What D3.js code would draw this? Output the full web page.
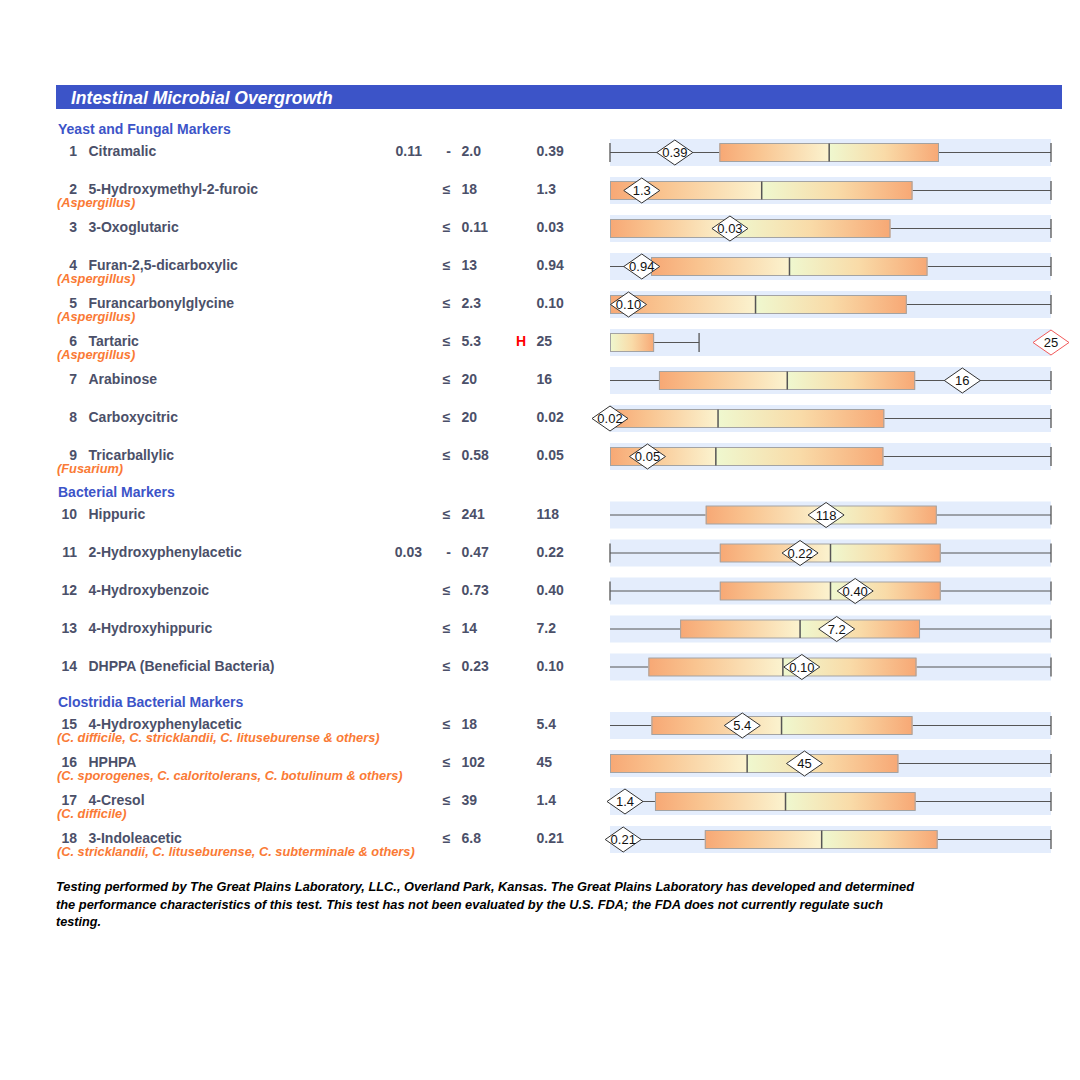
<!DOCTYPE html>
<html>
<head>
<meta charset="utf-8">
<script src="https://cdn.jsdelivr.net/npm/d3@7"></script>
<style>
  html, body { margin: 0; padding: 0; background: #ffffff; }
  svg { display: block; }
  text { font-family: "Liberation Sans", Arial, Helvetica, sans-serif; }
</style>
</head>
<body>
<svg id="chart" width="1080" height="1080"></svg>
<script>
// ---------------- DATA ----------------
const chartTitle = "Intestinal Microbial Overgrowth";
const sectionTitles = ["Yeast and Fungal Markers", "Bacterial Markers", "Clostridia Bacterial Markers"];
const sectionOfRow = [0,0,0,0,0,0,0,0,0, 1,1,1,1,1, 2,2,2,2];
const rowNumbers = [1,2,3,4,5,6,7,8,9,10,11,12,13,14,15,16,17,18];
const analyteNames = [
  "Citramalic", "5-Hydroxymethyl-2-furoic", "3-Oxoglutaric", "Furan-2,5-dicarboxylic",
  "Furancarbonylglycine", "Tartaric", "Arabinose", "Carboxycitric", "Tricarballylic",
  "Hippuric", "2-Hydroxyphenylacetic", "4-Hydroxybenzoic", "4-Hydroxyhippuric",
  "DHPPA (Beneficial Bacteria)", "4-Hydroxyphenylacetic", "HPHPA", "4-Cresol", "3-Indoleacetic"
];
const organisms = [
  "", "(Aspergillus)", "", "(Aspergillus)", "(Aspergillus)", "(Aspergillus)", "", "", "(Fusarium)",
  "", "", "", "", "",
  "(C. difficile, C. stricklandii, C. lituseburense & others)",
  "(C. sporogenes, C. caloritolerans, C. botulinum & others)",
  "(C. difficile)",
  "(C. stricklandii, C. lituseburense, C. subterminale & others)"
];
const refLow  = ["0.11","","","","","","","","","","0.03","","","","","","",""];
const refHigh = ["2.0","18","0.11","13","2.3","5.3","20","20","0.58","241","0.47","0.73","14","0.23","18","102","39","6.8"];
const results = ["0.39","1.3","0.03","0.94","0.10","25","16","0.02","0.05","118","0.22","0.40","7.2","0.10","5.4","45","1.4","0.21"];
const flags   = ["","","","","","H","","","","","","","","","","","",""];
// positions on the report's 0-100 display scale
const boxLow      = [24.8, 0, 0, 9.3, 0, 0, 11.1, 0, 0, 21.7, 24.9, 24.9, 15.9, 8.7, 9.4, 0, 10.2, 21.5];
const boxMedian   = [49.7, 34.4, 27.2, 40.7, 33.0, 0, 40.2, 24.5, 24.0, 49.0, 50.0, 50.0, 43.1, 39.2, 38.9, 31.1, 39.8, 48.0];
const boxHigh     = [74.6, 68.6, 63.6, 72.0, 67.3, 10.0, 69.2, 62.2, 62.0, 74.1, 75.0, 75.0, 70.3, 69.5, 68.6, 65.4, 69.3, 74.3];
const whiskerHigh = [100, 100, 100, 100, 100, 20.2, 100, 100, 100, 100, 100, 100, 100, 100, 100, 100, 100, 100];
const markerPos   = [14.7, 7.2, 27.2, 7.2, 4.2, 100, 79.9, 0, 8.5, 49.0, 43.1, 55.6, 51.4, 43.5, 30.0, 44.1, 3.4, 3.0];
const leftTick    = [1,0,0,0,0,0,0,0,0,0,1,1,0,0,0,0,0,0];
const footerLines = [
  "Testing performed by The Great Plains Laboratory, LLC., Overland Park, Kansas. The Great Plains Laboratory has developed and determined",
  "the performance characteristics of this test. This test has not been evaluated by the U.S. FDA;  the FDA does not currently regulate such",
  "testing."
];
const footerWidths = [858, 827, 45];

// ---------------- LAYOUT ----------------
const svg = d3.select("#chart");
const textColor = "#4b5069";
const blue = "#3c54c8";
const orange = "#fa7a35";

const x = d3.scaleLinear().domain([0, 100]).range([610, 1051]);
const sectionGap = 20.5 / 38;
const slotY = d3.scaleLinear().domain([0, 1]).range([152.5, 190.5]);
const rows = rowNumbers.map((n, i) => ({
  i, n, name: analyteNames[i], org: organisms[i], lo: refLow[i], hi: refHigh[i],
  res: results[i], flag: flags[i], b0: boxLow[i], med: boxMedian[i], b1: boxHigh[i],
  wh: whiskerHigh[i], mk: markerPos[i], lt: leftTick[i], sec: sectionOfRow[i],
  cy: slotY(i + sectionOfRow[i] * sectionGap)
}));

// gradients
const defs = svg.append("defs");
const gL = defs.append("linearGradient").attr("id", "gradL");
gL.append("stop").attr("offset", "0%").attr("stop-color", "#f7a875");
gL.append("stop").attr("offset", "35%").attr("stop-color", "#f9c490");
gL.append("stop").attr("offset", "100%").attr("stop-color", "#fbf3cf");
const gR = defs.append("linearGradient").attr("id", "gradR");
gR.append("stop").attr("offset", "0%").attr("stop-color", "#eff8cf");
gR.append("stop").attr("offset", "50%").attr("stop-color", "#f9dba8");
gR.append("stop").attr("offset", "100%").attr("stop-color", "#f7a875");

// header bar
svg.append("rect").attr("x", 56).attr("y", 85).attr("width", 1006).attr("height", 24).attr("fill", blue);
svg.append("text").attr("x", 71).attr("y", 104).attr("fill", "#ffffff")
  .attr("font-size", 17.5).attr("font-weight", "bold").attr("font-style", "italic").text(chartTitle);

// section titles
sectionTitles.forEach((t, s) => {
  const first = rows.find(r => r.sec === s);
  svg.append("text").attr("x", 58).attr("y", first.cy - 18.5).attr("fill", blue)
    .attr("font-size", 14).attr("font-weight", "bold").text(t);
});

const g = svg.append("g");
const rowG = g.selectAll("g.row").data(rows).join("g").attr("class", "row");

// text columns
rowG.append("text").attr("x", 77).attr("y", d => d.cy + 3.5).attr("text-anchor", "end")
  .attr("fill", textColor).attr("font-size", 14).attr("font-weight", "bold").text(d => d.n);
rowG.append("text").attr("x", 88.5).attr("y", d => d.cy + 3.5)
  .attr("fill", textColor).attr("font-size", 14).attr("font-weight", "bold").text(d => d.name);
rowG.filter(d => d.org).append("text").attr("x", 57).attr("y", d => d.cy + 16.5)
  .attr("fill", orange).attr("font-size", 12.8).attr("font-weight", "bold").attr("font-style", "italic").text(d => d.org);
rowG.filter(d => d.lo).append("text").attr("x", 422).attr("y", d => d.cy + 3.5).attr("text-anchor", "end")
  .attr("fill", textColor).attr("font-size", 14).attr("font-weight", "bold").text(d => d.lo);
rowG.append("text").attr("x", d => d.lo ? 448.5 : 446.5).attr("y", d => d.cy + 3.5).attr("text-anchor", "middle")
  .attr("fill", textColor).attr("font-size", 14).attr("font-weight", "bold").text(d => d.lo ? "-" : "≤");
rowG.append("text").attr("x", 461.5).attr("y", d => d.cy + 3.5)
  .attr("fill", textColor).attr("font-size", 14).attr("font-weight", "bold").text(d => d.hi);
rowG.filter(d => d.flag).append("text").attr("x", 516).attr("y", d => d.cy + 3.5)
  .attr("fill", "#ff0000").attr("font-size", 14).attr("font-weight", "bold").text(d => d.flag);
rowG.append("text").attr("x", 536.5).attr("y", d => d.cy + 3.5)
  .attr("fill", textColor).attr("font-size", 14).attr("font-weight", "bold").text(d => d.res);

// bands
rowG.append("rect").attr("x", x(0)).attr("width", x(100) - x(0))
  .attr("y", d => d.cy - 13.5).attr("height", 27).attr("fill", "#e4edfc");

const lineColor = "#555555";
// left whisker
rowG.filter(d => d.b0 > 0).append("line")
  .attr("x1", x(0)).attr("x2", d => x(d.b0)).attr("y1", d => d.cy).attr("y2", d => d.cy)
  .attr("stroke", lineColor).attr("stroke-width", 1);
// right whisker
rowG.append("line")
  .attr("x1", d => x(d.b1)).attr("x2", d => x(d.wh)).attr("y1", d => d.cy).attr("y2", d => d.cy)
  .attr("stroke", lineColor).attr("stroke-width", 1);
// ticks
rowG.filter(d => d.lt).append("line")
  .attr("x1", x(0)).attr("x2", x(0)).attr("y1", d => d.cy - 9.5).attr("y2", d => d.cy + 9.5)
  .attr("stroke", lineColor).attr("stroke-width", 1.3);
rowG.append("line")
  .attr("x1", d => x(d.wh)).attr("x2", d => x(d.wh)).attr("y1", d => d.cy - 9.5).attr("y2", d => d.cy + 9.5)
  .attr("stroke", lineColor).attr("stroke-width", 1.3);
// box halves
rowG.filter(d => d.med > d.b0).append("rect")
  .attr("x", d => x(d.b0)).attr("width", d => x(d.med) - x(d.b0))
  .attr("y", d => d.cy - 9).attr("height", 18).attr("fill", "url(#gradL)");
rowG.append("rect")
  .attr("x", d => x(d.med)).attr("width", d => x(d.b1) - x(d.med))
  .attr("y", d => d.cy - 9).attr("height", 18).attr("fill", "url(#gradR)");
rowG.append("rect")
  .attr("x", d => x(d.b0) + 0.5).attr("width", d => x(d.b1) - x(d.b0) - 1)
  .attr("y", d => d.cy - 9).attr("height", 18).attr("fill", "none")
  .attr("stroke", "#a3a3a3").attr("stroke-width", 1);
// median
rowG.filter(d => d.med > d.b0).append("line")
  .attr("x1", d => x(d.med)).attr("x2", d => x(d.med)).attr("y1", d => d.cy - 9).attr("y2", d => d.cy + 9)
  .attr("stroke", "#555555").attr("stroke-width", 1.5);
// result diamonds
const dm = rowG.append("g").attr("transform", d => `translate(${x(d.mk)},${d.cy})`);
dm.append("path").attr("d", "M-18,0 L0,-12.5 L18,0 L0,12.5 Z")
  .attr("fill", "#ffffff").attr("stroke", d => d.flag ? "#f25a5a" : "#333333").attr("stroke-width", 1);
dm.append("text").attr("y", 4.5).attr("text-anchor", "middle").attr("fill", "#111111")
  .attr("font-size", 13).text(d => d.res);

// footer
footerLines.forEach((t, k) => {
  svg.append("text").attr("x", 56).attr("y", 891 + k * 17.5).attr("fill", "#000000")
    .attr("font-size", 12.5).attr("font-weight", "bold").attr("font-style", "italic")
    .style("font-family", "'Liberation Sans Narrow', 'Arial Narrow', 'Liberation Sans', sans-serif")
    .attr("textLength", footerWidths[k]).attr("lengthAdjust", "spacingAndGlyphs").text(t);
});
</script>
</body>
</html>
